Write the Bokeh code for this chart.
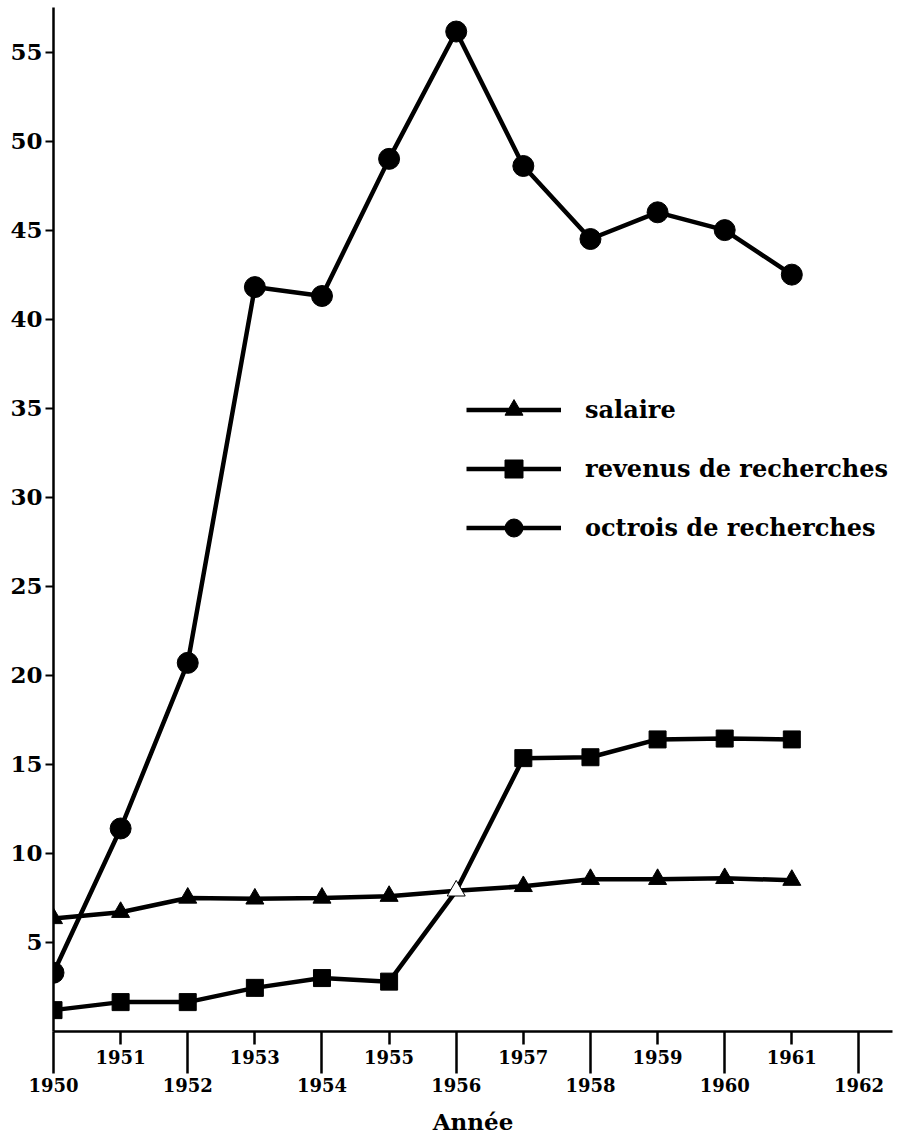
from bokeh.plotting import figure
from bokeh.models import (LinearAxis, FixedTicker, Range1d, Legend, LegendItem,
                          ColumnDataSource)
from bokeh.embed import file_html
from bokeh.resources import INLINE

# ---- data ----
years = [1950, 1951, 1952, 1953, 1954, 1955, 1956, 1957, 1958, 1959, 1960, 1961]
salaire = [6.35, 6.7, 7.5, 7.45, 7.5, 7.6, 7.9, 8.15, 8.55, 8.55, 8.6, 8.5]
revenus = [1.2, 1.65, 1.65, 2.45, 3.0, 2.8, 7.9, 15.35, 15.4, 16.4, 16.45, 16.4]
octrois = [3.3, 11.4, 20.7, 41.8, 41.3, 49.0, 56.15, 48.6, 44.5, 46.0, 45.0, 42.5]
odd_years = [1951, 1953, 1955, 1957, 1959, 1961]
even_years = [1950, 1952, 1954, 1956, 1958, 1960, 1962]
y_ticks = [5, 10, 15, 20, 25, 30, 35, 40, 45, 50, 55]
labels = ["salaire", "revenus de recherches", "octrois de recherches"]
crossing_year = 1956  # revenus meets salaire; drawn as a hollow triangle

FONT = "DejaVu Serif"
LW = 4.5

p = figure(width=900, height=1137, x_range=Range1d(1950, 1962.5),
           y_range=Range1d(0, 57.5), output_backend="svg",
           toolbar_location=None, x_axis_location=None,
           min_border_left=53, min_border_right=8, min_border_top=7,
           min_border_bottom=106)
p.outline_line_color = None
p.grid.visible = False
p.background_fill_color = "white"
p.border_fill_color = "white"

# y axis
ya = p.yaxis[0]
ya.ticker = FixedTicker(ticks=y_ticks)
ya.major_tick_in = 0
ya.major_tick_out = 8
ya.minor_tick_out = 0
ya.minor_tick_in = 0
ya.major_label_standoff = 3
ya.axis_line_width = 2.5
ya.major_tick_line_width = 2
ya.major_label_text_font = FONT
ya.major_label_text_font_style = "bold"
ya.major_label_text_font_size = "23px"
ya.major_label_text_color = "black"

# x axis: odd years (short ticks, upper row)
ax1 = LinearAxis(ticker=FixedTicker(ticks=odd_years),
                 major_tick_in=0, major_tick_out=13, minor_tick_in=0, minor_tick_out=0,
                 major_label_standoff=5, axis_line_width=2.5,
                 major_tick_line_width=2.5,
                 major_label_text_font=FONT, major_label_text_font_style="bold",
                 major_label_text_font_size="18px", major_label_text_color="black")
# x axis: even years (long ticks reaching up to the axis line, lower row)
ax2 = LinearAxis(ticker=FixedTicker(ticks=even_years),
                 major_tick_in=35, major_tick_out=7, minor_tick_in=0, minor_tick_out=0,
                 major_label_standoff=4, axis_line_color=None,
                 major_tick_line_width=2.5,
                 major_label_text_font=FONT, major_label_text_font_style="bold",
                 major_label_text_font_size="18px", major_label_text_color="black",
                 axis_label="Année", axis_label_standoff=13,
                 axis_label_text_font=FONT, axis_label_text_font_style="bold",
                 axis_label_text_font_size="23px", axis_label_text_color="black")
p.add_layout(ax1, "below")
p.add_layout(ax2, "below")

# lines
l_oct = p.line(years, octrois, line_width=LW, color="black")
l_rev = p.line(years, revenus, line_width=LW, color="black")
l_sal = p.line(years, salaire, line_width=LW, color="black")

# markers
rev_x = [y for y in years if y != crossing_year]
rev_y = [v for y, v in zip(years, revenus) if y != crossing_year]
m_rev = p.scatter(rev_x, rev_y, marker="square", size=17, color="black")

sal_src = ColumnDataSource(dict(
    x=years, y=salaire,
    fill=["white" if y == crossing_year else "black" for y in years]))
m_sal = p.scatter("x", "y", source=sal_src, marker="triangle", size=18,
                  fill_color="fill", line_color="black", line_width=1)
m_oct = p.scatter(years, octrois, marker="circle", size=21, color="black")

legend = Legend(items=[
    LegendItem(label=labels[0], renderers=[l_sal, m_sal], index=0),
    LegendItem(label=labels[1], renderers=[l_rev, m_rev], index=0),
    LegendItem(label=labels[2], renderers=[l_oct, m_oct], index=0),
], location=(413, 481), glyph_width=95, glyph_height=45, spacing=14,
    label_standoff=24, padding=0, margin=0, border_line_color=None,
    background_fill_alpha=0, label_text_font=FONT, label_text_font_style="bold",
    label_text_font_size="24px", label_text_color="black")
p.add_layout(legend, "center")

open("out.html", "w").write(file_html(p, INLINE))
